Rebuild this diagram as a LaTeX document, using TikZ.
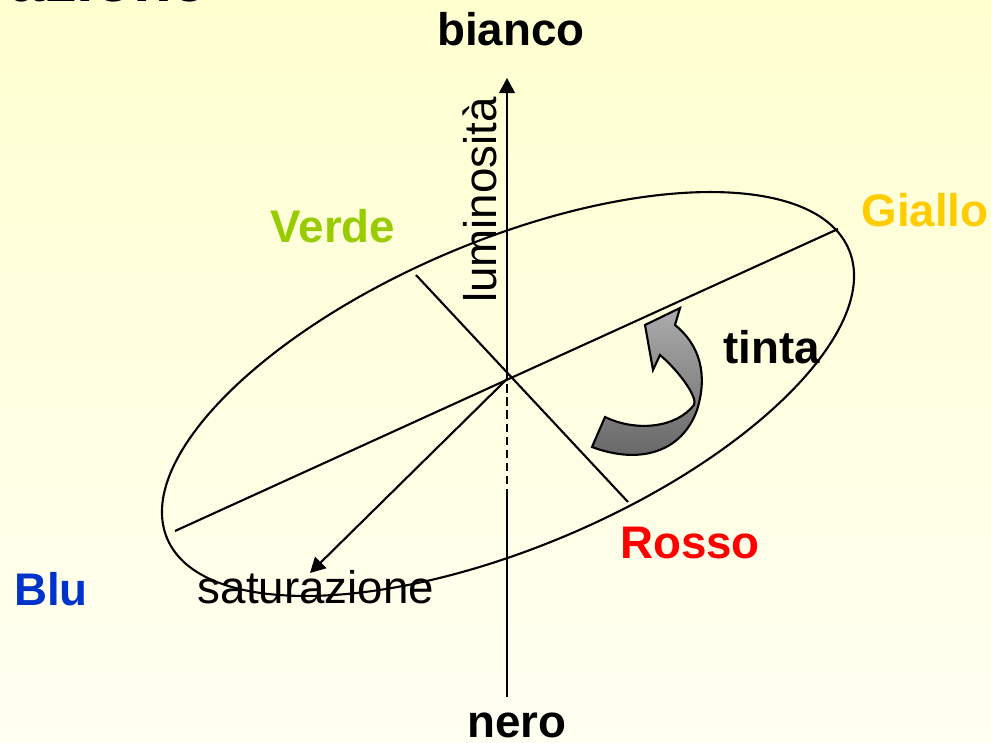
\documentclass[tikz,border=0pt]{standalone}
\usepackage{fontspec}
\setmainfont{Liberation Sans}
\usetikzlibrary{arrows.meta}

\definecolor{bgtop}{RGB}{255,255,208}
\definecolor{bgbot}{RGB}{255,255,242}
\definecolor{verde}{RGB}{153,204,0}
\definecolor{giallo}{RGB}{255,204,0}
\definecolor{rosso}{RGB}{255,0,0}
\definecolor{blu}{RGB}{0,51,204}
\definecolor{tintadark}{RGB}{100,100,100}
\definecolor{tintalight}{RGB}{172,172,172}

\begin{document}
\begin{tikzpicture}[x=0.01cm, y=-0.01cm, line width=0.6pt,
    lbl/.style={font=\fontsize{13}{15}\selectfont\bfseries, anchor=base, inner sep=0pt},
    plain/.style={font=\fontsize{13}{15}\selectfont, anchor=base, inner sep=0pt},
    tip/.style={-{Triangle[length=4.3pt,width=4.5pt]}}]
    % background, also fixes the size
    \shade[top color=bgtop, bottom color=bgbot] (0,0) rectangle (991,743);
    \useasboundingbox (0,0) rectangle (991,743);
    \clip (0,0) rectangle (991,743);

    % slide title, cut off by the top edge
    \node (title) [font=\fontsize{18}{20}\selectfont\bfseries, anchor=base east, inner sep=0pt] at (208,2) {Saturazione};

    \coordinate (O) at (507,379);
    \coordinate (top) at (507,78);
    \coordinate (bot) at (507,697);
    \coordinate (dash) at (507,497);
    \coordinate (bluend) at (175,531);
    \coordinate (gialloend) at (838,229);
    \coordinate (verdeend) at (416,275);
    \coordinate (rossoend) at (628,502);
    \coordinate (satend) at (310,573);

    % colour disc
    \draw[rotate around={23:(508,394)}] (508,394) ellipse [x radius=3.70cm, y radius=1.53cm];
    \draw (bluend) -- (gialloend);
    \draw (verdeend) -- (rossoend);

    % luminosity axis
    \draw (bot) -- (dash);
    \draw[dash pattern=on 2.4pt off 1.3pt] (dash) -- (O);
    \draw[tip] (O) -- (top);
    \draw[tip] (O) -- (satend);

    % hue arrow
    \shade[top color=tintalight, bottom color=tintadark, draw=black]
        (592,447) .. controls (640,465) and (682,452) .. (697,410)
        .. controls (708,375) and (700,345) .. (675,325)
        -- (680,308) -- (645,325) -- (653,370) -- (660,355)
        .. controls (680,372) and (698,398) .. (694,405)
        .. controls (676,428) and (636,432) .. (605,417) -- cycle;

    \node (bianco) [lbl] at (511,46) {bianco};
    \node (nero) [lbl] at (517,737) {nero};
    \node (verde) [lbl, text=verde] at (333,243) {Verde};
    \node (giallo) [lbl, text=giallo] at (925,227) {Giallo};
    \node (rosso) [lbl, text=rosso] at (690,558) {Rosso};
    \node (blu) [lbl, text=blu] at (51,605) {Blu};
    \node (tinta) [lbl] at (772,364) {tinta};
    \node (sat) [plain] at (316,603) {saturazione};
    \node (lum) [plain, rotate=90] at (496,200) {luminosità};
\end{tikzpicture}
\end{document}
